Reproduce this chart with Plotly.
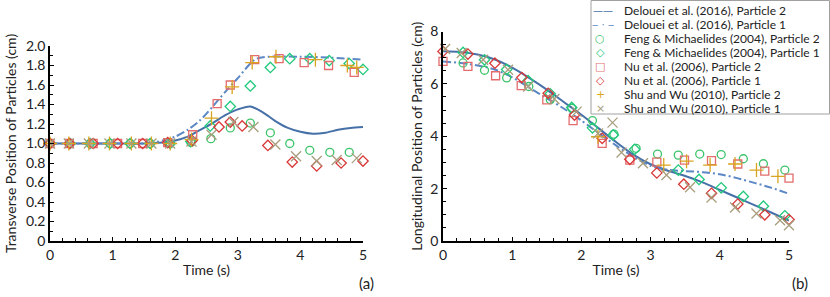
import plotly.graph_objects as go

# ---------------- data: panel (a) transverse position ----------------
t_line_a_p2 = [0, 0.5, 1.0, 1.5, 1.8, 2.0, 2.2, 2.4, 2.6, 2.8, 3.0, 3.2, 3.4, 3.6, 3.8, 4.0, 4.2, 4.4, 4.6, 4.8, 5.0]
y_line_a_p2 = [1, 1, 1, 1, 1.01, 1.03, 1.07, 1.14, 1.21, 1.29, 1.35, 1.38, 1.32, 1.23, 1.16, 1.12, 1.10, 1.11, 1.14, 1.16, 1.17]
t_line_a_p1 = [0, 0.5, 1.0, 1.5, 1.8, 2.0, 2.2, 2.4, 2.6, 2.8, 3.0, 3.2, 3.3, 3.5, 4.0, 4.5, 5.0]
y_line_a_p1 = [1, 1, 1, 1, 1.03, 1.07, 1.14, 1.24, 1.38, 1.53, 1.67, 1.82, 1.87, 1.89, 1.89, 1.88, 1.86]

t_feng_a_p2 = [0, 0.32, 0.64, 0.96, 1.28, 1.6, 1.92, 2.25, 2.57, 2.88, 3.2, 3.52, 3.83, 4.15, 4.47, 4.78]
y_feng_a_p2 = [1, 1, 1, 1, 1, 1, 1, 1.01, 1.05, 1.16, 1.21, 1.11, 1.0, 0.93, 0.91, 0.91]
t_feng_a_p1 = [0, 0.32, 0.64, 0.96, 1.28, 1.6, 1.92, 2.25, 2.56, 2.88, 3.2, 3.52, 3.83, 4.15, 4.46, 4.78, 5.0]
y_feng_a_p1 = [1, 1, 1, 1, 1, 1, 1, 1.02, 1.18, 1.38, 1.59, 1.78, 1.87, 1.87, 1.85, 1.82, 1.76]
t_nu_a_p2 = [0, 0.31, 0.69, 1.08, 1.48, 1.88, 2.28, 2.67, 2.88, 3.27, 3.66, 4.06, 4.45, 4.86]
y_nu_a_p2 = [1, 1, 1, 1, 1, 1.01, 1.09, 1.41, 1.60, 1.86, 1.87, 1.83, 1.80, 1.73]
t_nu_a_p1 = [0, 0.31, 0.69, 1.08, 1.48, 1.88, 2.27, 2.70, 2.88, 3.07, 3.48, 3.87, 4.26, 4.65, 5.0]
y_nu_a_p1 = [1, 1, 1, 1, 1, 1.01, 1.03, 1.17, 1.22, 1.18, 0.98, 0.81, 0.77, 0.80, 0.82]
t_shu_a_p2 = [0, 0.3, 0.62, 0.95, 1.3, 1.62, 1.92, 2.26, 2.58, 2.91, 3.23, 3.61, 4.24, 4.75, 4.9]
y_shu_a_p2 = [1, 1, 1, 1, 1, 1, 1, 1.04, 1.26, 1.58, 1.83, 1.89, 1.86, 1.80, 1.78]
t_shu_a_p1 = [0, 0.3, 0.62, 0.95, 1.3, 1.62, 1.92, 2.26, 2.58, 2.93, 3.25, 3.60, 3.93, 4.26, 4.58, 4.90]
y_shu_a_p1 = [1, 1, 1, 1, 1, 1, 1.0, 1.02, 1.09, 1.22, 1.17, 0.99, 0.87, 0.82, 0.83, 0.85]

# ---------------- data: panel (b) longitudinal position ----------------
t_line_b = [0, 0.25, 0.5, 0.75, 1.0, 1.25, 1.5, 1.75, 2.0, 2.25, 2.5, 2.75, 3.0, 3.25, 3.5, 3.75, 4.0, 4.25, 4.5, 4.75, 5.0]
y_line_b_p2 = [7.25, 7.22, 7.12, 6.93, 6.62, 6.22, 5.78, 5.30, 4.82, 4.30, 3.78, 3.30, 2.93, 2.68, 2.48, 2.24, 1.95, 1.66, 1.37, 1.08, 0.78]
y_line_b_p1 = [6.85, 6.80, 6.70, 6.55, 6.25, 5.85, 5.45, 5.05, 4.60, 4.12, 3.65, 3.22, 2.87, 2.72, 2.67, 2.63, 2.55, 2.40, 2.22, 2.03, 1.80]

t_feng_b_p2 = [0.29, 0.6, 0.92, 1.24, 1.55, 1.86, 2.16, 2.47, 2.79, 3.10, 3.40, 3.71, 4.02, 4.34, 4.63, 4.94]
y_feng_b_p2 = [6.80, 6.52, 6.23, 5.90, 5.40, 5.07, 4.60, 4.08, 3.54, 3.32, 3.28, 3.32, 3.30, 3.14, 2.95, 2.71]
t_feng_b_p1 = [0.29, 0.60, 0.92, 1.23, 1.55, 1.86, 2.16, 2.46, 2.77, 3.40, 3.70, 4.02, 4.34, 4.63, 4.94]
y_feng_b_p1 = [7.20, 6.92, 6.55, 6.12, 5.62, 5.10, 4.32, 4.05, 3.50, 2.71, 2.35, 2.03, 1.70, 1.33, 0.96]
t_nu_b_p2 = [0, 0.36, 0.76, 1.13, 1.50, 1.88, 2.30, 2.70, 3.09, 3.49, 3.88, 4.26, 4.65, 5.0]
y_nu_b_p2 = [6.86, 6.67, 6.31, 5.93, 5.39, 4.60, 3.73, 3.09, 3.01, 3.09, 3.07, 2.94, 2.67, 2.40]
t_nu_b_p1 = [0, 0.36, 0.75, 1.14, 1.52, 1.90, 2.30, 2.70, 3.09, 3.48, 3.88, 4.26, 4.65, 5.0]
y_nu_b_p1 = [7.24, 7.14, 6.79, 6.24, 5.64, 4.81, 3.92, 3.12, 2.60, 2.17, 1.82, 1.41, 1.00, 0.82]
t_shu_b_p2 = [2.24, 3.19, 3.52, 3.86, 4.22, 4.53, 4.84]
y_shu_b_p2 = [3.98, 2.90, 3.05, 2.90, 2.94, 2.71, 2.47]
t_shu_b_p1 = [0.03, 0.27, 0.58, 0.94, 1.23, 1.61, 1.93, 2.24, 2.45, 2.58, 2.89, 3.23, 3.57, 3.88, 4.22, 4.53, 4.87, 5.0]
y_shu_b_p1 = [7.33, 7.18, 6.92, 6.54, 5.90, 5.42, 4.94, 4.11, 4.52, 3.38, 2.97, 2.52, 2.05, 1.66, 1.28, 1.05, 0.79, 0.60]

# tick labels
yticks_a = [0, 0.2, 0.4, 0.6, 0.8, 1.0, 1.2, 1.4, 1.6, 1.8, 2.0]
yticktext_a = ["0", "0.2", "0.4", "0.6", "0.8", "1.0", "1.2", "1.4", "1.6", "1.8", "2.0"]
yticks_b = [0, 2, 4, 6, 8]
xticks = [0, 1, 2, 3, 4, 5]

legend_names = [
    "Delouei et al. (2016), Particle 2",
    "Delouei et al. (2016), Particle 1",
    "Feng & Michaelides (2004), Particle 2",
    "Feng & Michaelides (2004), Particle 1",
    "Nu et al. (2006), Particle 2",
    "Nu et al. (2006), Particle 1",
    "Shu and Wu (2010), Particle 2",
    "Shu and Wu (2010), Particle 1",
]

# ---------------- styles ----------------
C_SOLID = "#4670A8"
C_DASH = "#5B87C5"
C_FENG2 = "#3CC46A"
C_FENG1 = "#22C97C"
C_NU2 = "#E46C6C"
C_NU1 = "#D93838"
C_SHU2 = "#D9A520"
C_SHU1 = "#A89E7E"
FONT = "Lato"

fig = go.Figure()

def add_panel(xa, ya, lines, pts):
    for (t, y, color, dash) in lines:
        fig.add_trace(go.Scatter(x=t, y=y, mode="lines", xaxis=xa, yaxis=ya,
                                 line=dict(color=color, width=2, dash=dash, shape="spline", smoothing=0.8),
                                 showlegend=False, hoverinfo="skip"))
    for (t, y, color, sym, size) in pts:
        fig.add_trace(go.Scatter(x=t, y=y, mode="markers", xaxis=xa, yaxis=ya, cliponaxis=False,
                                 marker=dict(symbol=sym, size=size, color=color, line=dict(color=color, width=1.3)),
                                 showlegend=False))

add_panel("x", "y",
          [(t_line_a_p2, y_line_a_p2, C_SOLID, "solid"),
           (t_line_a_p1, y_line_a_p1, C_DASH, "8px,3px,2px,3px")],
          [(t_feng_a_p2, y_feng_a_p2, C_FENG2, "circle-open", 8),
           (t_feng_a_p1, y_feng_a_p1, C_FENG1, "diamond-open", 8),
           (t_nu_a_p2, y_nu_a_p2, C_NU2, "square-open", 8),
           (t_nu_a_p1, y_nu_a_p1, C_NU1, "diamond-open", 8),
           (t_shu_a_p2, y_shu_a_p2, C_SHU2, "cross-thin-open", 10),
           (t_shu_a_p1, y_shu_a_p1, C_SHU1, "x-thin-open", 10)])

add_panel("x2", "y2",
          [(t_line_b, y_line_b_p2, C_SOLID, "solid"),
           (t_line_b, y_line_b_p1, C_DASH, "8px,3px,2px,3px")],
          [(t_feng_b_p2, y_feng_b_p2, C_FENG2, "circle-open", 8),
           (t_feng_b_p1, y_feng_b_p1, C_FENG1, "diamond-open", 8),
           (t_nu_b_p2, y_nu_b_p2, C_NU2, "square-open", 8),
           (t_nu_b_p1, y_nu_b_p1, C_NU1, "diamond-open", 8),
           (t_shu_b_p2, y_shu_b_p2, C_SHU2, "cross-thin-open", 10),
           (t_shu_b_p1, y_shu_b_p1, C_SHU1, "x-thin-open", 10)])

W, H = 830, 297
def px_x(p): return p / W
def px_y(p): return 1 - p / H

axis_common = dict(showgrid=False, zeroline=False, showline=True, linecolor="black", linewidth=1.5,
                   ticks="inside", ticklen=4, tickcolor="black", tickwidth=1, automargin=False,
                   tickfont=dict(family=FONT, size=14, color="#222"),
                   title_font=dict(family=FONT, size=14, color="#222"))

fig.update_layout(
    width=W, height=H, autosize=False,
    margin=dict(l=0, r=0, t=0, b=0, autoexpand=False),
    paper_bgcolor="white", plot_bgcolor="white",
    showlegend=False,
    xaxis=dict(domain=[px_x(50), px_x(363)], range=[0, 5], tickvals=xticks, anchor="y",
               minor=dict(dtick=0.2, ticks="inside", ticklen=3, tickcolor="black"),
               title=dict(text="Time (s)", standoff=4), **axis_common),
    yaxis=dict(domain=[px_y(241), px_y(46)], range=[0, 2], tickvals=yticks_a, ticktext=yticktext_a, anchor="x",
               minor=dict(dtick=0.1, ticks="inside", ticklen=3, tickcolor="black"),
               title=dict(text="Transverse Position of Particles (cm)", standoff=6), **axis_common),
    xaxis2=dict(domain=[px_x(443), px_x(789)], range=[0, 5], tickvals=xticks, anchor="y2",
                minor=dict(dtick=0.2, ticks="inside", ticklen=3, tickcolor="black"),
                title=dict(text="Time (s)", standoff=4), **axis_common),
    yaxis2=dict(domain=[px_y(241), px_y(31.5)], range=[0, 8], tickvals=yticks_b, anchor="x2",
                minor=dict(dtick=0.5, ticks="inside", ticklen=3, tickcolor="black"),
                title=dict(text="Longitudinal Position of Particles (cm)", standoff=4), **axis_common),
)

# panel labels
fig.add_annotation(text="(a)", x=px_x(366), y=px_y(283), xref="paper", yref="paper", showarrow=False,
                   xanchor="center", yanchor="middle",
                   font=dict(family=FONT, size=15, color="#222"))
fig.add_annotation(text="(b)", x=px_x(800), y=px_y(283), xref="paper", yref="paper", showarrow=False,
                   xanchor="center", yanchor="middle",
                   font=dict(family=FONT, size=15, color="#222"))

# legend box (drawn as text rows)
fig.add_shape(type="rect", xref="paper", yref="paper", x0=px_x(591), x1=px_x(829.5), y0=px_y(114), y1=px_y(0.5),
              line=dict(color="#A0A0A0", width=1), fillcolor="white", layer="above")
leg_symbols = ["\u2014\u2014", "\u2012 \u00b7 \u2012", "\u25cb", "\u25c7", "\u25a1", "\u25c7", "+", "\u00d7"]
leg_colors = [C_SOLID, C_DASH, C_FENG2, C_FENG1, C_NU2, C_NU1, C_SHU2, C_SHU1]
for i, (name, sym, col) in enumerate(zip(legend_names, leg_symbols, leg_colors)):
    yc = 10.5 + 14 * i
    fig.add_annotation(text=sym, x=px_x(603 if i < 2 else 600), y=px_y(yc), xref="paper", yref="paper",
                       showarrow=False, xanchor="center", yanchor="middle", height=13,
                       font=dict(family="DejaVu Sans", size=11 if i > 1 else 10, color=col))
    fig.add_annotation(text=name, x=px_x(622), y=px_y(yc), xref="paper", yref="paper", showarrow=False,
                       xanchor="left", yanchor="middle", height=13,
                       font=dict(family=FONT, size=12, color="#222"))

fig.write_html("out.html", post_script="document.body.style.margin='0px';",
               config={"displayModeBar": False})
